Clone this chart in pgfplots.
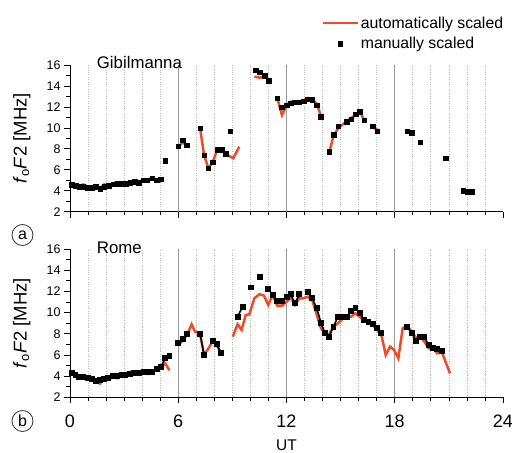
\documentclass[border=0pt]{standalone}
\usepackage{fontspec}
\setmainfont{Liberation Sans}
\usepackage{pgfplots}
\pgfplotsset{compat=1.18}
\definecolor{autored}{HTML}{EE4B26}
\pgfplotsset{
 panel/.style={
  scale only axis, width=433pt,
  xmin=0, xmax=24, ymin=2, ymax=16,
  axis x line*=bottom, axis y line*=left,
  axis line style={black, line width=0.8pt},
  xtick={0,6,12,18,24}, minor x tick num=5,
  ytick={2,4,...,16}, minor y tick num=1,
  tick align=outside, tick pos=left,
  major tick length=6pt, minor tick length=3.5pt,
  every tick/.style={black, line width=0.7pt},
  xminorgrids, minor x grid style={gray!55, dotted, line width=0.7pt},
  extra x ticks={6,12,18}, extra x tick labels={},
  extra x tick style={grid=major, major grid style={gray!80, line width=0.6pt}},
  yticklabel style={font=\fontsize{12.5}{14}\selectfont},
  /pgf/number format/assume math mode=true,
  ylabel={\textit{f}\textsubscript{o}\textit{F}2 [MHz]},
  ylabel style={at={(axis description cs:-0.1115,0.5)}, anchor=center, inner sep=0pt, font=\fontsize{18.5}{20}\selectfont},
  clip=false,
 },
 autoline/.style={autored, line width=2.5pt, sharp plot, no marks, forget plot},
 manpts/.style={black, only marks, mark=square*, mark size=2.3pt, forget plot},
 manline/.style={black, line width=1.6pt, mark=square*, mark size=2.1pt, forget plot},
}
\begin{document}
\begin{tikzpicture}[x=1pt,y=1pt]
\useasboundingbox (0,0) rectangle (512,453);
% ---------------- top panel: Gibilmanna
\begin{axis}[panel, at={(70pt,241.3pt)}, anchor=south west, height=146.7pt,
  xticklabels={},
  legend style={at={(axis description cs:0.58,1.345)}, anchor=north west, draw=none, fill=none,
    inner sep=0pt, font=\fontsize{15.8}{17}\selectfont, row sep=3.5pt},
  legend cell align=left,
  legend image code/.code={\draw[mark repeat=2,mark phase=2,#1] plot coordinates {(0pt,0pt) (17.5pt,0pt) (35pt,0pt)};},
  ]
\addlegendimage{autored, line width=2.5pt}
\addlegendentry{automatically scaled}
\addlegendimage{black, only marks, mark=square*, mark size=2.3pt}
\addlegendentry{manually scaled}
\addplot[autoline] coordinates {(0.0,4.6) (0.3,4.5) (0.52,4.45) (0.74,4.6) (0.98,4.4) (1.2,4.3) (1.44,4.45) (1.68,4.3) (1.9,4.6) (2.14,4.5) (2.4,4.6) (2.64,4.7) (2.87,4.7) (3.1,4.7) (3.33,4.85) (3.57,4.95) (3.82,4.85) (4.07,5.05) (4.29,5.1) (4.55,5.2) (4.8,4.95) (5.04,4.85)};
\addplot[autoline] coordinates {(6.0,8.2) (6.25,8.6) (6.47,8.35)};
\addplot[autoline] coordinates {(7.21,9.96) (7.43,7.41) (7.67,6.14) (7.91,6.71) (8.15,7.89) (8.41,7.89) (8.63,7.51) (9.05,7.1) (9.38,8.2)};
\addplot[autoline] coordinates {(10.22,14.88) (10.53,14.79) (10.79,14.96) (11.03,14.5)};
\addplot[autoline] coordinates {(11.49,12.82) (11.75,11.22) (12.01,12.2) (12.23,12.5) (12.47,12.44) (12.71,12.5) (12.95,12.65) (13.18,12.85) (13.42,12.72) (13.68,12.3) (13.92,11.07)};
\addplot[autoline] coordinates {(14.36,7.6) (14.6,9.2) (14.86,9.95) (15.34,10.65) (15.82,11.2) (16.06,11.6) (16.3,10.75)};
\addplot[autoline] coordinates {(16.7,10.1) (17.08,9.8)};
\addplot[manpts] coordinates {(0.09,4.55) (0.31,4.48) (0.52,4.39) (0.74,4.39) (0.98,4.29) (1.2,4.29) (1.44,4.39) (1.68,4.17) (1.9,4.39) (2.14,4.48) (2.4,4.61) (2.64,4.67) (2.87,4.67) (3.1,4.67) (3.33,4.77) (3.57,4.86) (3.82,4.77) (4.07,5.02) (4.29,5.02) (4.55,5.19) (4.8,5.02) (5.04,5.09)
 (5.28,6.84)
 (6.0,8.24) (6.25,8.84) (6.47,8.36)
 (7.21,9.96) (7.43,7.41) (7.67,6.14) (7.91,6.71) (8.15,7.89) (8.41,7.89) (8.63,7.51) (8.87,9.67)
 (10.29,15.52) (10.53,15.3) (10.79,14.98) (11.03,14.5)
 (11.49,12.82) (11.75,11.96) (12.01,12.18) (12.23,12.34) (12.47,12.44) (12.71,12.44) (12.95,12.56) (13.18,12.72) (13.42,12.66) (13.68,12.18) (13.9,11.07)
 (14.36,7.73) (14.6,9.32) (14.86,10.15) (15.34,10.59) (15.58,10.81) (15.82,11.29) (16.06,11.54) (16.3,10.75) (16.78,10.15) (17.02,9.67)
 (18.68,9.67) (18.94,9.54) (19.42,8.62) (20.84,7.12) (21.8,4.0) (22.05,3.88) (22.28,3.88)};
\node[anchor=base west, font=\fontsize{16.8}{18}\selectfont, inner sep=0pt] at (rel axis cs:0.0617,0.977) {Gibilmanna};
\end{axis}
% ---------------- bottom panel: Rome
\begin{axis}[panel, at={(70pt,55.7pt)}, anchor=south west, height=148.3pt,
  xticklabel style={font=\fontsize{18}{20}\selectfont, yshift=-7.7pt},
  xlabel={UT},
  xlabel style={at={(axis description cs:0.5,0)}, anchor=center, inner sep=0pt, yshift=-48.3pt, font=\fontsize{15.5}{17}\selectfont},
  ]
\addplot[autoline] coordinates {(0.0,4.2) (0.3,4.1) (0.52,3.8) (0.74,3.95) (0.98,3.85) (1.2,3.7) (1.42,3.45) (1.66,3.3) (1.9,3.75) (2.12,3.7) (2.4,3.9) (2.62,3.8) (2.86,4.05) (3.08,4.0) (3.33,4.05) (3.55,4.2) (3.82,4.35) (4.07,4.35) (4.29,4.2) (4.55,4.3) (4.8,4.65) (5.04,4.85) (5.28,5.2) (5.51,4.55)};
\addplot[autoline] coordinates {(6.0,6.95) (6.25,7.35) (6.5,7.95) (6.74,8.89) (6.93,8.2) (7.21,8.0) (7.43,6.0) (7.67,6.6) (7.91,7.3) (8.13,6.95) (8.37,6.2)};
\addplot[autoline] coordinates {(9.02,7.73) (9.29,8.89) (9.51,8.36) (9.74,9.77) (9.94,9.83) (10.22,11.35) (10.5,11.73) (10.75,11.6) (10.99,10.72) (11.23,11.66) (11.49,10.65) (11.75,10.65) (12.01,11.03) (12.23,11.41) (12.47,10.72) (12.71,11.35) (12.95,11.35) (13.18,11.5) (13.42,11.19) (13.68,9.77) (13.91,8.52) (14.14,7.95) (14.36,7.95) (14.6,8.67) (14.86,8.99) (15.1,9.39) (15.34,9.61) (15.58,9.61) (15.82,9.93) (16.06,9.61) (16.3,9.2) (16.54,9.08) (16.78,8.83) (17.02,8.36) (17.26,7.88) (17.5,5.99) (17.74,6.78) (17.96,6.47) (18.2,5.68) (18.44,8.52) (18.68,8.76) (18.94,8.2) (19.16,7.63) (19.4,7.73) (19.64,7.25) (19.88,6.62) (20.12,6.62) (20.36,6.15) (20.6,6.31) (21.06,4.27)};
\addplot[manline] coordinates {(0.09,4.27) (0.31,4.11) (0.52,3.95) (0.74,3.95) (0.98,3.85) (1.2,3.7) (1.42,3.57) (1.66,3.63) (1.9,3.73) (2.12,3.85) (2.4,4.04) (2.62,4.0) (2.86,4.11) (3.08,4.11) (3.33,4.17) (3.55,4.27) (3.82,4.32) (4.07,4.42) (4.29,4.42) (4.55,4.36) (4.8,4.67) (5.04,4.89) (5.28,5.68) (5.51,5.93)};
\addplot[manline] coordinates {(6.0,7.1) (6.25,7.5) (6.49,7.95)};
\addplot[manline] coordinates {(7.21,8.0) (7.43,6.0)};
\addplot[manline] coordinates {(7.91,7.32) (8.13,7.0) (8.37,6.15)};
\addplot[manline] coordinates {(9.29,9.61) (9.57,10.56)};
\addplot[manpts] coordinates {(10.03,12.39) (10.53,13.36)};
\addplot[manline] coordinates {(10.99,12.23) (11.23,11.66) (11.49,11.09) (11.75,11.12) (12.01,11.5) (12.23,11.73) (12.47,10.87) (12.71,11.73)};
\addplot[manline] coordinates {(13.18,11.97) (13.42,11.35) (13.68,10.4) (13.92,8.99) (14.14,8.04) (14.36,7.73) (14.6,8.67) (14.86,9.61) (15.1,9.61) (15.34,9.61) (15.58,10.15) (15.82,10.4) (16.06,9.93) (16.3,9.3) (16.54,9.14) (16.78,8.89) (17.02,8.52) (17.26,8.04)};
\addplot[manline] coordinates {(18.68,8.61) (18.94,8.1) (19.16,7.32) (19.4,7.73) (19.64,7.7) (19.88,6.9) (20.12,6.62) (20.36,6.55) (20.6,6.4)};
\node[anchor=base west, font=\fontsize{16.8}{18}\selectfont, inner sep=0pt] at (rel axis cs:0.0617,0.971) {Rome};
\end{axis}
\node[circle, draw=black!80, line width=0.8pt, minimum size=21pt, inner sep=0pt, font=\fontsize{16}{18}\selectfont] at (22.5,218) {a};
\node[circle, draw=black!80, line width=0.8pt, minimum size=21pt, inner sep=0pt, font=\fontsize{16}{18}\selectfont] at (22.5,32) {b};
\end{tikzpicture}
\end{document}
